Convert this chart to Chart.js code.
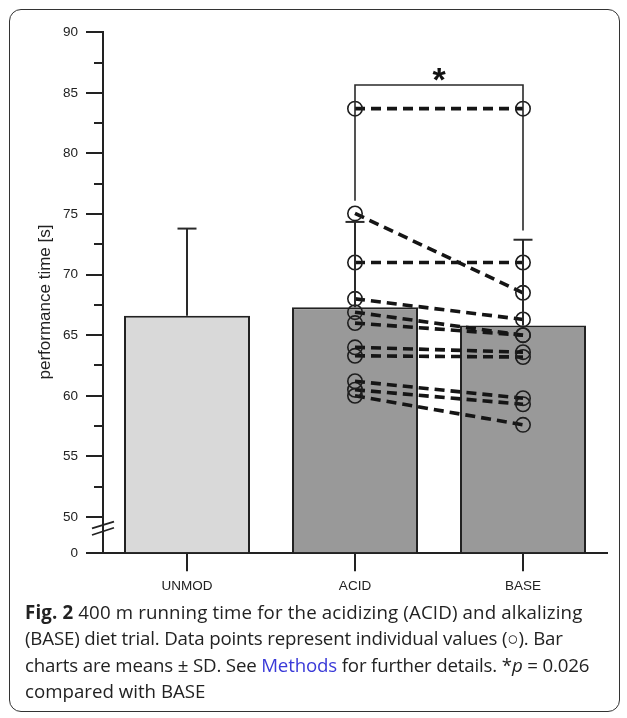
<!DOCTYPE html>
<html>
<head>
<meta charset="utf-8">
<script src="https://cdn.jsdelivr.net/npm/chart.js@4.4.0/dist/chart.umd.min.js"></script>
<style>
  html, body { margin: 0; padding: 0; background: #fff; }
  body { width: 627px; height: 718px; position: relative; overflow: hidden; }
  #frame { position: absolute; left: 8.5px; top: 8.5px; width: 611px; height: 703px;
           border: 1.5px solid #333; border-radius: 12px; box-sizing: border-box; }
  #c { position: absolute; left: 0; top: 0; }
  #cap { position: absolute; left: 25px; top: 598.7px; width: 600px;
         font-family: 'Open Sans', sans-serif; font-size: 18.7px; line-height: 26.6px;
         color: #222; white-space: nowrap; }
  #cap b { font-weight: 700; }
  #cap .lnk { color: #3a3ad8; }
  #cap .l1 { letter-spacing: 0.14px; }
  #cap .l2 { letter-spacing: -0.17px; }
  #cap .l3 { letter-spacing: -0.17px; }
</style>
</head>
<body>
<div id="frame"></div>
<canvas id="c" width="627" height="600"></canvas>
<div id="cap"><span class="l1"><b>Fig. 2</b> 400 m running time for the acidizing (ACID) and alkalizing</span><br><span class="l2">(BASE) diet trial. Data points represent individual values (○). Bar</span><br><span class="l3">charts are means ± SD. See <span class="lnk">Methods</span> for further details. *<i>p</i> = 0.026</span><br>compared with BASE</div>
<script>
// ---------- data ----------
const categories = ['UNMOD', 'ACID', 'BASE'];
const meanTimes = [66.6, 67.3, 65.8];
const sdTimes = [7.2, 7.05, 7.08];
const acidTimes = [83.7, 75.05, 71.0, 68.0, 66.9, 66.0, 64.0, 63.3, 61.2, 60.5, 60.0];
const baseTimes = [83.7, 68.5, 71.0, 66.3, 65.0, 65.0, 63.6, 63.2, 59.8, 59.3, 57.6];
const yTickLabels = [0, 50, 55, 60, 65, 70, 75, 80, 85, 90];
const yMinorTicks = [52.5, 57.5, 62.5, 67.5, 72.5, 77.5, 82.5, 87.5];
const sigLevel = 85.65;
const sigLegEnds = [76.1, 73.65];
const sigLabel = '*';
const yTitle = 'performance time [s]';

// broken axis: values >= 50 are shifted down so that 0 sits just below 50
const BREAK_SHIFT = 47;
const toAxis = v => (v >= 50 ? v - BREAK_SHIFT : v * (50 - BREAK_SHIFT) / 50);
const INK = '#222';

const isMajor = v => yTickLabels.some(l => Math.abs(toAxis(l) - v) < 1e-6);

const extras = {
  id: 'extras',
  afterDraw(chart) {
    const { ctx, scales: { x, y } } = chart;
    const ax = y.right;
    ctx.save();
    ctx.strokeStyle = INK;
    ctx.lineCap = 'butt';
    // minor ticks
    ctx.lineWidth = 2;
    yMinorTicks.forEach(v => {
      const py = Math.round(y.getPixelForValue(toAxis(v)));
      ctx.beginPath(); ctx.moveTo(ax - 9, py); ctx.lineTo(ax, py); ctx.stroke();
    });
    // axis break marks
    ctx.lineWidth = 1.8;
    [[2.06, 2.61], [1.51, 2.11]].forEach(([a, b]) => {
      ctx.beginPath();
      ctx.moveTo(ax - 11, y.getPixelForValue(a));
      ctx.lineTo(ax + 11, y.getPixelForValue(b));
      ctx.stroke();
    });
    // error bars (upper whisker)
    ctx.strokeStyle = '#2a2a2a';
    ctx.lineWidth = 2;
    categories.forEach((c, i) => {
      const px = x.getPixelForValue(i);
      const yb = y.getPixelForValue(toAxis(meanTimes[i]));
      const yt = y.getPixelForValue(toAxis(meanTimes[i] + sdTimes[i]));
      ctx.beginPath(); ctx.moveTo(px, yb); ctx.lineTo(px, yt); ctx.stroke();
      ctx.beginPath(); ctx.moveTo(px - 9.5, yt); ctx.lineTo(px + 9.5, yt); ctx.stroke();
    });
    // significance bracket
    const x1 = x.getPixelForValue(1), x2 = x.getPixelForValue(2);
    const ys = y.getPixelForValue(toAxis(sigLevel));
    ctx.lineWidth = 1.6;
    ctx.strokeStyle = '#2a2a2a';
    ctx.beginPath();
    ctx.moveTo(x1, y.getPixelForValue(toAxis(sigLegEnds[0])));
    ctx.lineTo(x1, ys);
    ctx.lineTo(x2, ys);
    ctx.lineTo(x2, y.getPixelForValue(toAxis(sigLegEnds[1])));
    ctx.stroke();
    ctx.fillStyle = '#111';
    ctx.font = 'bold 34px "Liberation Sans"';
    ctx.textAlign = 'center';
    ctx.textBaseline = 'alphabetic';
    const m = ctx.measureText(sigLabel);
    const cy = ys - 11;
    ctx.fillText(sigLabel, (x1 + x2) / 2, cy - (m.actualBoundingBoxDescent - m.actualBoundingBoxAscent) / 2);
    // y-axis title
    ctx.save();
    ctx.translate(45, 302);
    ctx.rotate(-Math.PI / 2);
    ctx.font = '17px "Liberation Sans"';
    ctx.fillStyle = INK;
    ctx.textAlign = 'center';
    ctx.textBaseline = 'middle';
    ctx.fillText(yTitle, 0, 0);
    ctx.restore();
    ctx.restore();
  }
};

const datasets = [
  {
    type: 'bar',
    data: meanTimes.map(toAxis),
    backgroundColor: ['#d9d9d9', '#999999', '#999999'],
    borderColor: INK,
    borderWidth: 2,
    borderSkipped: 'start',
    barPercentage: 0.75,
    categoryPercentage: 1,
    order: 2
  },
  ...acidTimes.map((a, i) => ({
    type: 'line',
    data: [null, toAxis(a), toAxis(baseTimes[i])],
    borderColor: '#151515',
    borderWidth: 3.6,
    borderDash: [10, 6],
    pointRadius: 7.2,
    pointBorderWidth: 1.6,
    pointBorderColor: '#1e1e1e',
    pointBackgroundColor: 'rgba(0,0,0,0)',
    fill: false,
    tension: 0,
    order: 1
  }))
];

new Chart(document.getElementById('c'), {
  type: 'bar',
  data: { labels: categories, datasets },
  options: {
    responsive: false,
    animation: false,
    events: [],
    layout: { padding: { top: 32.3, right: 20, bottom: 0, left: 0 } },
    plugins: { legend: { display: false }, tooltip: { enabled: false } },
    scales: {
      x: {
        type: 'category',
        offset: true,
        z: 1,
        afterFit(scale) { scale.height = 46.7; },
        grid: { display: true, drawOnChartArea: false, drawTicks: true, tickLength: 18,
                lineWidth: 2, color: INK, offset: false },
        border: { display: true, color: INK, width: 2 },
        ticks: { color: INK, font: { family: 'Liberation Sans', size: 13.5 }, padding: 7 }
      },
      y: {
        type: 'linear',
        min: 0,
        max: toAxis(90),
        afterFit(scale) { scale.width = 103; },
        afterBuildTicks(scale) {
          const vals = yTickLabels.concat(yMinorTicks).map(toAxis).sort((a, b) => a - b);
          scale.ticks = vals.map(v => ({ value: v }));
        },
        grid: { display: true, drawOnChartArea: false, drawTicks: true, tickLength: 17,
                lineWidth: 2, color: ctx => (ctx.tick && isMajor(ctx.tick.value)) ? INK : 'rgba(0,0,0,0)' },
        border: { display: true, color: INK, width: 2 },
        ticks: {
          autoSkip: false,
          color: INK,
          padding: 8,
          font: { family: 'Liberation Sans', size: 13.5 },
          callback(value) {
            const l = yTickLabels.find(t => Math.abs(toAxis(t) - value) < 1e-6);
            return l === undefined ? '' : String(l);
          }
        }
      }
    }
  },
  plugins: [extras]
});
</script>
</body>
</html>
